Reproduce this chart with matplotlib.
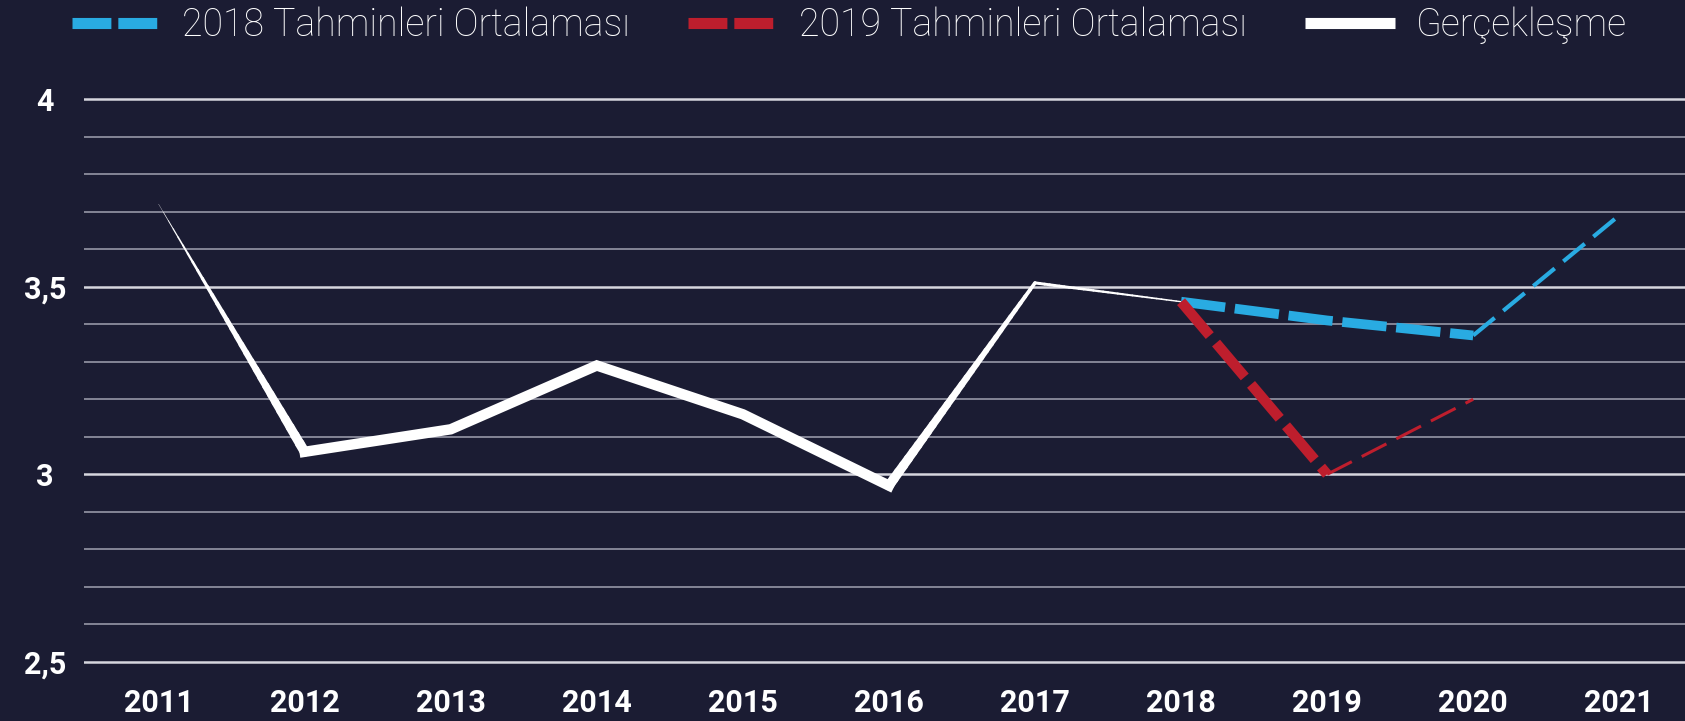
import matplotlib
matplotlib.use("Agg")
import matplotlib.pyplot as plt
import numpy as np
from matplotlib.collections import LineCollection
from matplotlib.lines import Line2D

YEARS = [2011, 2012, 2013, 2014, 2015, 2016, 2017, 2018]
ACTUAL = [3.72, 3.06, 3.12, 3.29, 3.16, 2.97, 3.51, 3.46]

F2018_YEARS = [2018, 2019, 2020, 2021]
F2018 = [3.46, 3.41, 3.37, 3.69]

F2019_YEARS = [2018, 2019, 2020]
F2019 = [3.46, 3.00, 3.20]

X_TICKS = list(range(2011, 2022))
Y_TICKS = [2.5, 3.0, 3.5, 4.0]
Y_TICK_LABELS = ["2,5", "3", "3,5", "4"]
Y_MINOR = [2.6, 2.7, 2.8, 2.9, 3.1, 3.2, 3.3, 3.4, 3.6, 3.7, 3.8, 3.9]

LABELS = ["2018 Tahminleri Ortalaması", "2019 Tahminleri Ortalaması", "Gerçekleşme"]

BG = "#1b1c33"
BLUE = "#29abe2"
RED = "#be1e2d"
WHITE = "#ffffff"

plt.rcParams["lines.scale_dashes"] = False
plt.rcParams["font.family"] = ["Roboto", "DejaVu Sans"]


def tapered(ax, xs, ys, w0, w1, color, n=30):
    # one straight data segment drawn in pieces so its width can grow/shrink
    tx = np.linspace(xs[0], xs[1], n + 1)
    ty = np.linspace(ys[0], ys[1], n + 1)
    segs = [[(tx[i], ty[i]), (tx[i + 1], ty[i + 1])] for i in range(n)]
    widths = np.linspace(w0, w1, n)
    lc = LineCollection(segs, linewidths=widths, colors=color, capstyle="round", zorder=4)
    ax.add_collection(lc)


fig = plt.figure(figsize=(16.85, 7.21), dpi=100, facecolor=BG)
ax = fig.add_axes([0.0499, 0.0714, 0.9501, 0.8017])
ax.set_facecolor(BG)

for y in Y_MINOR:
    ax.axhline(y, color="#8c8d9e", lw=1.3, zorder=1)
for y in Y_TICKS:
    ax.axhline(y, color="#d6d6de", lw=1.8, zorder=1)

# actual values: tapered start, thick middle, thinning end
tapered(ax, YEARS[0:2], ACTUAL[0:2], 0.2, 7.0, WHITE)
ax.plot(YEARS[1:6], ACTUAL[1:6], color=WHITE, lw=7.5, solid_joinstyle="miter", zorder=4)
tapered(ax, YEARS[5:7], ACTUAL[5:7], 7.0, 2.6, WHITE)
tapered(ax, YEARS[6:8], ACTUAL[6:8], 2.2, 1.0, WHITE)

# 2018 forecasts
ax.plot(F2018_YEARS[0:3], F2018[0:3], color=BLUE, lw=7, dashes=(32, 7),
        dash_capstyle="butt", zorder=5)
ax.plot(F2018_YEARS[2:4], F2018[2:4], color=BLUE, lw=3.0, dashes=(20, 8),
        dash_capstyle="butt", zorder=5)

# 2019 forecasts
ax.plot(F2019_YEARS[0:2], F2019[0:2], color=RED, lw=7.5, dashes=(32, 7),
        dash_capstyle="butt", zorder=6)
ax.plot(F2019_YEARS[1:3], F2019[1:3], color=RED, lw=2.2, dashes=(20, 8),
        dash_capstyle="butt", zorder=6)

ax.set_xlim(2010.49, 2021.45)
ax.set_ylim(2.48, 4.02)
ax.set_xticks(X_TICKS)
ax.set_xticklabels([str(x) for x in X_TICKS])
ax.set_yticks(Y_TICKS)
ax.set_yticklabels(Y_TICK_LABELS)
for lab in ax.get_yticklabels():
    lab.set_horizontalalignment("center")
ax.tick_params(axis="x", length=0, pad=13, labelsize=22, labelcolor=WHITE)
ax.tick_params(axis="y", length=0, pad=28, labelsize=22, labelcolor=WHITE)
for lab in ax.get_xticklabels() + ax.get_yticklabels():
    lab.set_fontweight("semibold")
for s in ax.spines.values():
    s.set_visible(False)

handles = [
    Line2D([], [], color=BLUE, lw=8, dashes=(28, 5), dash_capstyle="butt"),
    Line2D([], [], color=RED, lw=8, dashes=(28, 5), dash_capstyle="butt"),
    Line2D([], [], color=WHITE, lw=8, solid_capstyle="butt"),
]
leg = fig.legend(handles, LABELS, loc="center", bbox_to_anchor=(0.504, 0.965), ncol=3,
                 frameon=False, handlelength=2.4, handletextpad=0.55,
                 columnspacing=1.55, prop={"weight": "light", "size": 27})
for t in leg.get_texts():
    t.set_color(WHITE)

fig.savefig("out.png", dpi=100, facecolor=BG)
